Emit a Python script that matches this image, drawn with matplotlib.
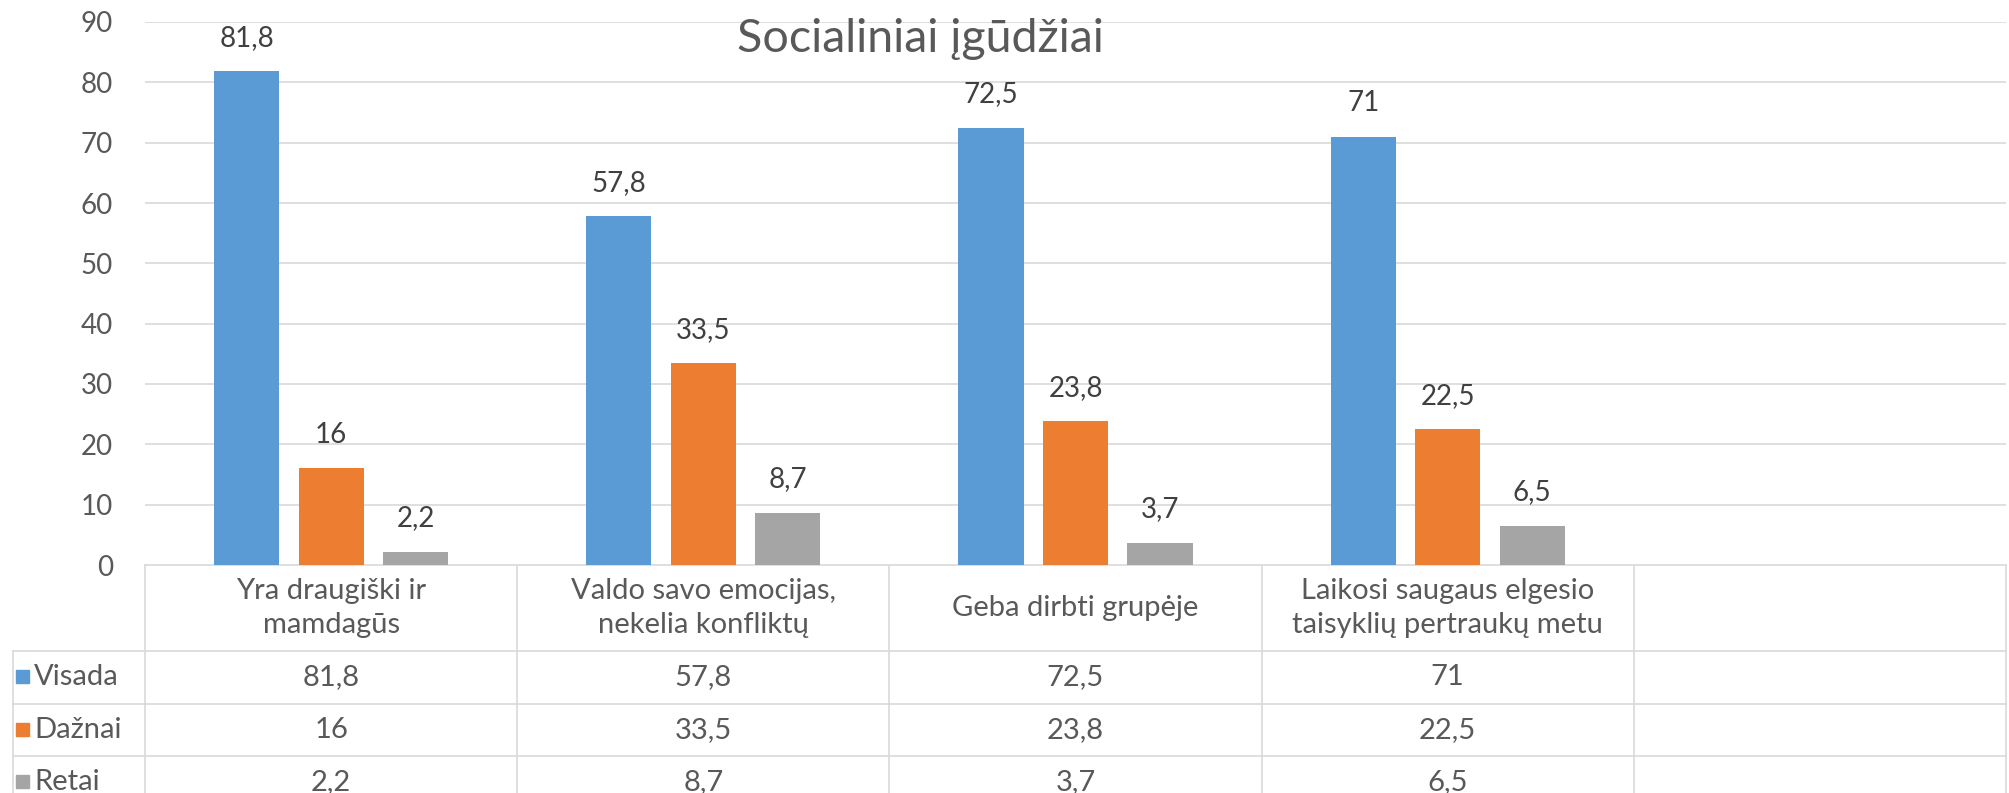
import matplotlib.pyplot as plt
from matplotlib.patches import Rectangle
from matplotlib.transforms import blended_transform_factory

plt.rcParams['font.family'] = ['Lato', 'DejaVu Sans']

title = "Socialiniai įgūdžiai"
categories = ["Yra draugiški ir\nmamdagūs",
              "Valdo savo emocijas,\nnekelia konfliktų",
              "Geba dirbti grupėje",
              "Laikosi saugaus elgesio\ntaisyklių pertraukų metu",
              ""]
series_names = ["Visada", "Dažnai", "Retai"]
visada = [81.8, 57.8, 72.5, 71, None]
daznai = [16, 33.5, 23.8, 22.5, None]
retai = [2.2, 8.7, 3.7, 6.5, None]
colors = ["#5B9BD5", "#ED7D31", "#A5A5A5"]

W, H = 2009, 793
fig = plt.figure(figsize=(W / 100, H / 100), dpi=100)

# main plot area (pixel positions measured on the reference)
x0, x1, ytop, ybot = 145, 2006, 22, 565
ax = fig.add_axes([x0 / W, 1 - ybot / H, (x1 - x0) / W, (ybot - ytop) / H])
# overlay in pixel coords for the data table
ov = fig.add_axes([0, 0, 1, 1], zorder=-1)
ov.set_xlim(0, W)
ov.set_ylim(H, 0)
ov.axis('off')

n = len(categories)
bw = 0.175
offs = [-0.227, 0, 0.227]
txt = "#595959"
grid = "#D9D9D9"
fs = 21

for k, (vals, c) in enumerate(zip([visada, daznai, retai], colors)):
    for i, v in enumerate(vals):
        if v is None:
            continue
        ax.bar(i + offs[k], v, width=bw, color=c, zorder=3)
        ax.annotate(f"{v:g}".replace(".", ","), (i + offs[k], v), xytext=(0, 24),
                    textcoords='offset points', ha='center', va='center',
                    fontsize=20, color="#404040")

ax.set_xlim(-0.5, n - 0.5)
ax.set_ylim(0, 90)
ax.set_yticks(range(0, 91, 10))
ax.yaxis.grid(True, color=grid, linewidth=1.2, zorder=0)
ax.tick_params(axis='y', length=0, labelsize=20, labelcolor=txt, pad=23)
ax.set_xticks([])
for s in ax.spines.values():
    s.set_visible(False)

fig.text(920 / W, 1 - 39 / H, title, ha='center', va='center', fontsize=33.5, color=txt)

# data table
tr = blended_transform_factory(ax.transData, ov.transData)
rows_y = [565, 651, 703.5, 756, 808]
lw = 1.2
# horizontal lines
ov.plot([x0, x1], [rows_y[0]] * 2, color=grid, lw=lw, clip_on=False)
for y in rows_y[1:]:
    ov.plot([13, x1], [y, y], color=grid, lw=lw, clip_on=False)
# vertical lines
ov.plot([13, 13], [rows_y[1], H], color=grid, lw=lw)
for i in range(n + 1):
    ov.plot([i - 0.5, i - 0.5], [rows_y[0], H], color=grid, lw=lw, transform=tr)

hy = (rows_y[0] + rows_y[1]) / 2
for i, cat in enumerate(categories):
    ov.text(i, hy, cat, transform=tr, ha='center', va='center', fontsize=fs,
            color=txt, linespacing=1.35)

for r, (name, vals, c) in enumerate(zip(series_names, [visada, daznai, retai], colors)):
    yc = (rows_y[r + 1] + rows_y[r + 2]) / 2
    ov.add_patch(Rectangle((16, yc - 7), 13, 13, color=c))
    ov.text(34, yc, name, ha='left', va='center', fontsize=fs, color=txt)
    for i, v in enumerate(vals):
        if v is None:
            continue
        ov.text(i, yc, f"{v:g}".replace(".", ","), transform=tr, ha='center',
                va='center', fontsize=fs, color=txt)

fig.savefig("out.png", dpi=100)
